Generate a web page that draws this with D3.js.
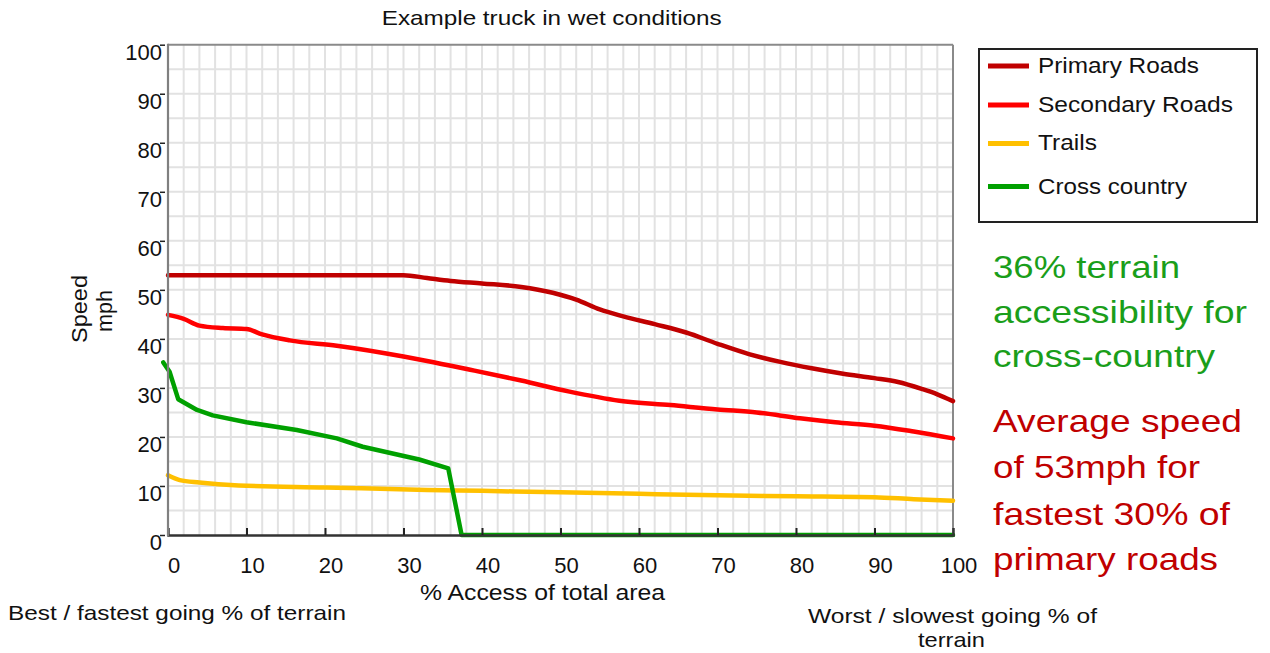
<!DOCTYPE html>
<html>
<head>
<meta charset="utf-8">
<script src="https://cdn.jsdelivr.net/npm/d3@7/dist/d3.min.js"></script>
<style>
  html, body { margin: 0; padding: 0; background: #fff; }
  svg { display: block; font-family: "Liberation Sans", Arial, sans-serif; }
</style>
</head>
<body>
<svg id="chart" width="1270" height="653"></svg>
<script>
// ---------- data ----------
const seriesNames = ["Primary Roads", "Secondary Roads", "Trails", "Cross country"];
const primaryRoads = [[0,53],[30,53],[33,52.4],[36,51.8],[40,51.3],[45,50.6],[49,49.4],[52,48],[55,46],[58,44.6],[62,43],[66,41.3],[70,39],[74,36.9],[78,35.3],[82,34],[86,32.9],[90,32],[93,31.2],[96,29.8],[98,28.7],[100,27.3]];
const secondaryRoads = [[0,44.9],[2,44.1],[4,42.7],[7,42.2],[10,42],[12,40.9],[15.5,39.7],[21.5,38.6],[30,36.4],[33,35.5],[38.5,33.7],[45,31.5],[51,29.3],[57.5,27.4],[64,26.5],[70,25.6],[75,25],[80.5,23.8],[85,23],[90,22.3],[95,21.1],[100,19.7]];
const trails = [[0,12.2],[1.5,11.2],[4,10.7],[9,10.1],[20,9.7],[33,9.2],[40,9.0],[50,8.7],[60,8.4],[70,8.1],[80,7.9],[90,7.7],[95,7.3],[100,7.0]];
const crossCountry = [[-0.6,35.2],[0.2,33.3],[1.3,27.7],[3.7,25.5],[5.7,24.4],[10,23],[16.4,21.4],[21.5,19.7],[24.8,18],[32,15.4],[35.7,13.6],[37.4,0],[100,0]];
const xTickLabels = [0,10,20,30,40,50,60,70,80,90,100];
const yTickLabels = [0,10,20,30,40,50,60,70,80,90,100];
const greenNote = ["36% terrain", "accessibility for", "cross-country"];
const redNote = ["Average speed", "of 53mph for", "fastest 30% of", "primary roads"];

// ---------- layout ----------
const svg = d3.select("#chart");
const x = d3.scaleLinear().domain([0, 100]).range([168, 953]);
const y = d3.scaleLinear().domain([0, 100]).range([535, 44.7]);
const colors = ["#c00000", "#ff0000", "#ffc000", "#00a000"];
const seriesData = [primaryRoads, secondaryRoads, trails, crossCountry];
const curves = [d3.curveMonotoneX, d3.curveMonotoneX, d3.curveMonotoneX, d3.curveLinear];

svg.append("rect").attr("width", 1270).attr("height", 653).attr("fill", "#fff");

// grid
const grid = svg.append("g");
grid.selectAll("line.v").data(d3.range(2, 100, 2)).join("line")
  .attr("x1", d => x(d)).attr("x2", d => x(d)).attr("y1", y(100)).attr("y2", y(0))
  .attr("stroke", "#e2e2e2").attr("stroke-width", 2);
grid.selectAll("line.h").data(d3.range(5, 100, 5)).join("line")
  .attr("x1", x(0)).attr("x2", x(100)).attr("y1", d => y(d)).attr("y2", d => y(d))
  .attr("stroke", "#e2e2e2").attr("stroke-width", 2);

// frame (top/right)
svg.append("line").attr("x1", x(0)).attr("x2", x(100)).attr("y1", y(100)).attr("y2", y(100))
  .attr("stroke", "#8a8a8a").attr("stroke-width", 2);
svg.append("line").attr("x1", x(100)).attr("x2", x(100)).attr("y1", y(100)).attr("y2", y(0))
  .attr("stroke", "#8a8a8a").attr("stroke-width", 2);

// series
seriesData.forEach((data, i) => {
  const line = d3.line().x(d => x(d[0])).y(d => y(d[1])).curve(curves[i]);
  svg.append("path").datum(data).attr("d", line)
    .attr("fill", "none").attr("stroke", colors[i]).attr("stroke-width", 4.5)
    .attr("stroke-linejoin", "round").attr("stroke-linecap", "round");
});

// axes
const xAxis = d3.axisBottom(x).tickValues(xTickLabels).tickSize(-7).tickPadding(0).tickFormat("");
const gx = svg.append("g").attr("transform", `translate(0,${y(0)})`).call(xAxis);
gx.select(".domain").attr("stroke", "#333").attr("stroke-width", 2.5);
gx.selectAll(".tick line").attr("stroke", "#222").attr("stroke-width", 2);
gx.selectAll(".tick").filter(d => d === 0 || d === 100).select("line").remove();
svg.selectAll("text.xt").data(xTickLabels).join("text").attr("class", "xt")
  .attr("x", d => x(d) + 6).attr("y", 572.7).attr("text-anchor", "middle")
  .attr("font-size", 22).attr("fill", "#111").text(d => d);

const yAxis = d3.axisLeft(y).tickValues(yTickLabels).tickSize(5).tickFormat("");
const gy = svg.append("g").attr("transform", `translate(${x(0) - 3},0)`).call(yAxis);
gy.select(".domain").remove();
gy.selectAll(".tick line").attr("stroke", "#222").attr("stroke-width", 1.5);
svg.append("line").attr("x1", x(0)).attr("x2", x(0)).attr("y1", y(100) - 1).attr("y2", y(0) + 1)
  .attr("stroke", "#808080").attr("stroke-width", 2.2);
svg.selectAll("text.yt").data(yTickLabels).join("text").attr("class", "yt")
  .attr("x", 162).attr("y", d => y(d) + 15).attr("text-anchor", "end")
  .attr("font-size", 22).attr("fill", "#111").text(d => d);

// helper for stretched text
function txt(str, xx, yy, size, len, color, anchor) {
  const t = svg.append("text").attr("x", xx).attr("y", yy).attr("font-size", size)
    .attr("fill", color || "#111").attr("text-anchor", anchor || "start").text(str);
  if (len) t.attr("textLength", len).attr("lengthAdjust", "spacingAndGlyphs");
  return t;
}

// titles
txt("Example truck in wet conditions", 551.7, 25, 21, 340, "#111", "middle");
txt("% Access of total area", 420, 600, 22, 245);
txt("Best / fastest going  % of terrain", 8, 620, 21, 338);
txt("Worst / slowest going  % of", 808, 622.7, 21, 289);
txt("terrain", 918, 646.7, 21, 67);

// y label
svg.append("text").attr("transform", "translate(87,309) rotate(-90)")
  .attr("text-anchor", "middle").attr("font-size", 22).attr("fill", "#111")
  .attr("textLength", 68).attr("lengthAdjust", "spacingAndGlyphs").text("Speed");
svg.append("text").attr("transform", "translate(112,311) rotate(-90)")
  .attr("text-anchor", "middle").attr("font-size", 22).attr("fill", "#111")
  .attr("textLength", 42).attr("lengthAdjust", "spacingAndGlyphs").text("mph");

// legend
svg.append("rect").attr("x", 979).attr("y", 49).attr("width", 278).attr("height", 173)
  .attr("fill", "#fff").attr("stroke", "#222").attr("stroke-width", 2);
const legY = [66, 105, 143.5, 186.5];
const legBase = [73.3, 112.3, 150, 194];
const legLen = [161, 195, 59, 149];
seriesNames.forEach((n, i) => {
  svg.append("line").attr("x1", 988).attr("x2", 1029).attr("y1", legY[i]).attr("y2", legY[i])
    .attr("stroke", colors[i]).attr("stroke-width", 5);
  txt(n, 1038, legBase[i], 22, legLen[i]);
});

// annotations
const greenBase = [278, 323, 367];
const greenLen = [187, 254, 222];
greenNote.forEach((s, i) => txt(s, 993, greenBase[i], 32, greenLen[i], "#1a9e1a"));
const redBase = [431.7, 478.3, 525, 570];
const redLen = [249, 207, 237, 225];
redNote.forEach((s, i) => txt(s, 993, redBase[i], 32, redLen[i], "#c00000"));
</script>
</body>
</html>
